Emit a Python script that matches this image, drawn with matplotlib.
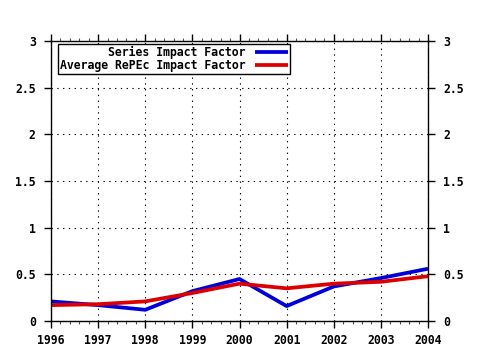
import matplotlib
matplotlib.use("Agg")
import matplotlib.pyplot as plt
from matplotlib.ticker import MultipleLocator

years = [1996, 1997, 1998, 1999, 2000, 2001, 2002, 2003, 2004]
series_if = [0.21, 0.17, 0.12, 0.32, 0.45, 0.16, 0.37, 0.46, 0.56]
average_if = [0.17, 0.18, 0.21, 0.30, 0.40, 0.35, 0.40, 0.42, 0.48]
series_label = "Series Impact Factor"
average_label = "Average RePEc Impact Factor"
yticks = [0, 0.5, 1, 1.5, 2, 2.5, 3]
ytick_labels = ["0", "0.5", "1", "1.5", "2", "2.5", "3"]

plt.rcParams['font.family'] = ['DejaVu Sans Mono']
plt.rcParams['font.weight'] = 'bold'
fs = 8.3

fig = plt.figure(figsize=(4.8, 3.5), dpi=100)
ax = fig.add_axes([51/480, 1 - 321/350, (428-51)/480, (321-41)/350])

ax.plot(years, series_if, color="#0000dd", lw=2.7, label=series_label, solid_capstyle='butt')
ax.plot(years, average_if, color="#dd0000", lw=2.7, label=average_label, solid_capstyle='butt')

ax.set_xlim(1996, 2004)
ax.set_ylim(0, 3)
ax.set_xticks(years)
ax.set_xticklabels([str(y) for y in years], fontsize=fs, fontweight='bold')
ax.set_yticks(yticks)
ax.set_yticklabels(ytick_labels, fontsize=fs, fontweight='bold')
ax.xaxis.set_minor_locator(MultipleLocator(0.2))

ax.tick_params(axis='x', which='major', direction='out', length=5, width=1, top=True, bottom=True, pad=4)
ax.tick_params(axis='x', which='minor', direction='out', length=2, width=0.8, top=True, bottom=True,
               color='#555555')
ax.tick_params(axis='y', which='major', direction='out', length=5, width=1, left=True, right=True,
               labelleft=True, labelright=True, pad=6)
ax.grid(True, which='major', color='black', linestyle=(0, (1.2, 4)), lw=0.8)
for s in ax.spines.values():
    s.set_linewidth(1)
    s.set_color('black')

leg = ax.legend(loc='upper left', bbox_to_anchor=(7/377, 1 - 3/280), markerfirst=False,
                prop={'family': 'DejaVu Sans Mono', 'weight': 'bold', 'size': fs},
                fancybox=False, framealpha=1, edgecolor='black', borderpad=0.15,
                handlelength=2.9, handletextpad=0.8, labelspacing=0.05, borderaxespad=0)
leg.get_frame().set_linewidth(1)
for t in leg.get_texts():
    t.set_ha('right')
leg._legend_box.align = "right"

fig.savefig("out.png", dpi=100)
